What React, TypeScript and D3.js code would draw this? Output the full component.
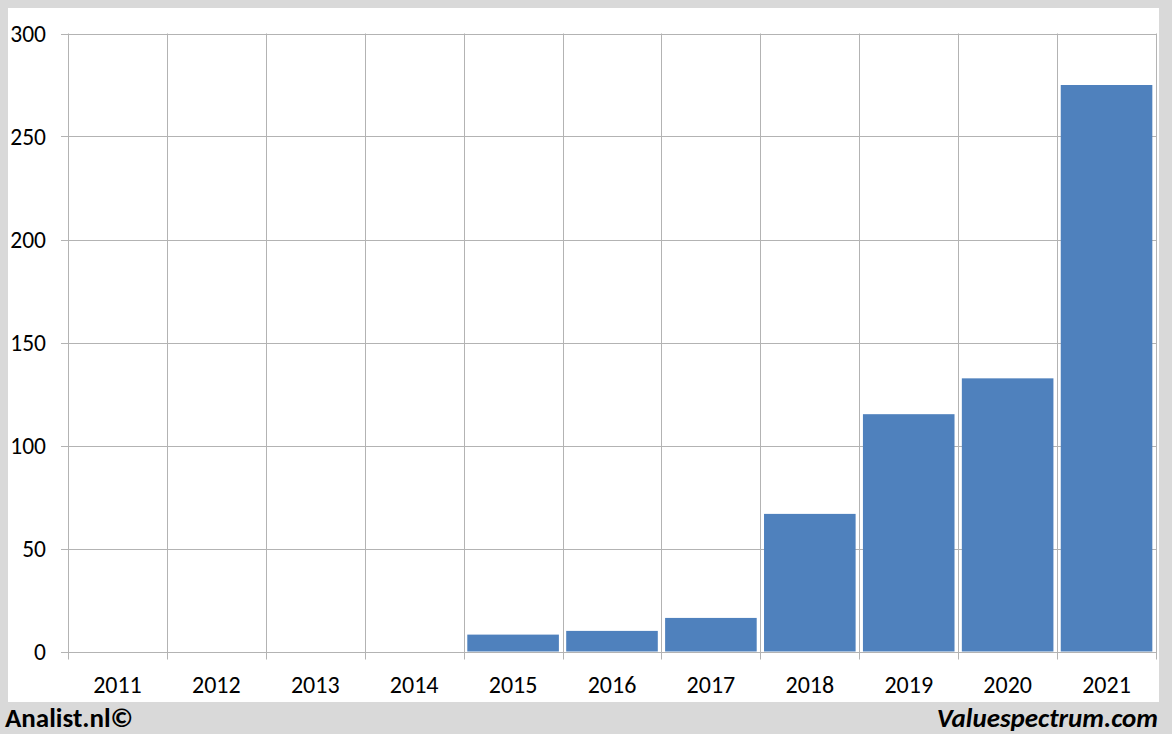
import React from "react";
import * as d3 from "d3";

const years = ["2011","2012","2013","2014","2015","2016","2017","2018","2019","2020","2021"];
const values = [0, 0, 0, 0, 8.2, 10, 16.3, 66.8, 115.2, 132.6, 275];
const yTicks = [0, 50, 100, 150, 200, 250, 300];

const W = 1172, H = 734;
const plot = { left: 68, right: 1156, top: 33.5, bottom: 651.5 };
const font = "Calibri, Carlito, 'Open Sans', 'Liberation Sans', sans-serif";

export default function App() {
  const x = d3.scaleBand<string>().domain(years).range([plot.left, plot.right]).paddingInner(0.074).paddingOuter(0.037);
  const xb = d3.scaleBand<string>().domain(years).range([plot.left, plot.right]);
  const y = d3.scaleLinear().domain([0, 300]).range([plot.bottom, plot.top]);
  const grid = "#b3b3b3";
  return (
    <svg width={W} height={H} style={{ position: "absolute", left: 0, top: 0 }}>
      <rect x={0} y={0} width={W} height={H} fill="#d9d9d9" />
      <rect x={8} y={8} width={1151} height={694} fill="#ffffff" />
      {yTicks.map(t => (
        <g key={t}>
          <line x1={plot.left - 7} x2={plot.right} y1={Math.round(y(t)) + 0.5} y2={Math.round(y(t)) + 0.5} stroke={grid} strokeWidth={1} />
          <text x={46} y={y(t)} dy="0.35em" textAnchor="end" fontSize={23.5} fontFamily={font} fill="#000">{t}</text>
        </g>
      ))}
      {years.map((yr, i) => (
        <line key={yr} x1={Math.round(xb(yr)!) + 0.5} x2={Math.round(xb(yr)!) + 0.5} y1={plot.top} y2={plot.bottom + 8} stroke={grid} strokeWidth={1} />
      ))}
      <line x1={plot.right + 0.5} x2={plot.right + 0.5} y1={plot.top} y2={plot.bottom + 8} stroke={grid} strokeWidth={1} />
      {years.map((yr, i) => values[i] > 0 ? (
        <rect key={yr} x={x(yr)!} y={y(values[i])} width={x.bandwidth()} height={plot.bottom - y(values[i])} fill="#4f81bd" />
      ) : null)}
      {years.map(yr => (
        <text key={yr} x={xb(yr)! + xb.bandwidth() / 2} y={693} textAnchor="middle" fontSize={24} fontFamily={font} fill="#000">{yr}</text>
      ))}
      <text x={5} y={727} fontSize={27} fontWeight="bold" fontFamily={font} fill="#000">Analist.nl©</text>
      <text x={1158} y={727} textAnchor="end" fontSize={27} fontWeight="bold" fontStyle="italic" fontFamily={font} fill="#000">Valuespectrum.com</text>
    </svg>
  );
}
